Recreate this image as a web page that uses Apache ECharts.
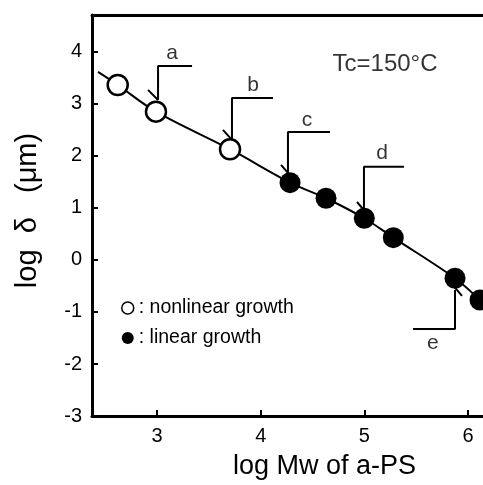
<!DOCTYPE html>
<html>
<head>
<meta charset="utf-8">
<script src="https://cdn.jsdelivr.net/npm/echarts@6/dist/echarts.min.js"></script>
<style>html,body{margin:0;padding:0;background:#fff}#c{width:483px;height:485px}</style>
</head>
<body>
<div id="c"></div>
<script>
// ---- data ----
var nonlinearPts = [[2.621, 3.365], [2.990, 2.852], [3.704, 2.129]];
var linearPts = [[4.283, 1.487], [4.630, 1.187], [4.999, 0.802], [5.279, 0.429], [5.874, -0.352], [6.115, -0.769]];
var curvePts = [[2.431, 3.615], [2.621, 3.365], [2.990, 2.852], [3.704, 2.129], [4.283, 1.487], [4.630, 1.187], [4.999, 0.802], [5.279, 0.429], [5.874, -0.352], [6.115, -0.769], [6.20, -0.93]];
// annotation brackets: [horizontal end, corner, vertical end]
var bracketNames = ['a', 'b', 'c', 'd', 'e'];
var bracketLines = [
  [[3.338, 3.73], [3.010, 3.73], [3.010, 3.077]],
  [[4.119, 3.115], [3.723, 3.115], [3.723, 2.31]],
  [[4.668, 2.46], [4.263, 2.46], [4.263, 1.673]],
  [[5.382, 1.79], [4.996, 1.79], [4.996, 0.96]],
  [[5.469, -1.327], [5.874, -1.327], [5.874, -0.577]]
];
var bracketArrows = [
  [[2.913, 3.27], [3.010, 3.077]],
  [[3.636, 2.50], [3.723, 2.31]],
  [[4.196, 1.827], [4.263, 1.673]],
  [[4.929, 1.115], [4.996, 0.96]],
  [[5.874, -0.53], [5.941, -0.692]]
];
var bracketLabelPos = [[3.145, 3.98], [3.926, 3.365], [4.446, 2.69], [5.17, 2.06], [5.661, -1.596]];
var tempLabel = 'Tc=150°C';
var tempLabelPos = [5.199, 3.77];
var xRange = [2.373, 6.144];
var yRange = [-3, 4.71];
var xTitle = 'log Mw of a-PS';
var yTitle = 'log  δ   (μm)';
var legendNames = ['nonlinear growth', 'linear growth'];

var FONT = 'Liberation Sans';
var chart = echarts.init(document.getElementById('c'), null, {renderer: 'canvas'});

var series = [];
series.push({
  type: 'line', data: curvePts, smooth: 0.35, showSymbol: false, symbol: 'none',
  lineStyle: {color: '#000', width: 2}, z: 2, silent: true, clip: true
});
bracketLines.forEach(function (seg, i) {
  series.push({type: 'line', data: seg, symbol: 'none', lineStyle: {color: '#000', width: 2}, z: 3, silent: true});
  series.push({type: 'line', data: bracketArrows[i], symbol: 'none', lineStyle: {color: '#000', width: 2}, z: 3, silent: true});
});
series.push({
  name: legendNames[0], type: 'scatter', data: nonlinearPts, symbol: 'circle', symbolSize: 20,
  itemStyle: {color: '#fff', borderColor: '#000', borderWidth: 2.5, opacity: 1}, z: 5
});
series.push({
  name: legendNames[1], type: 'scatter', data: linearPts, symbol: 'circle', symbolSize: 21,
  itemStyle: {color: '#000', borderColor: '#000', borderWidth: 0, opacity: 1}, z: 5
});
series.push({
  type: 'scatter', symbolSize: 0, silent: true, z: 6,
  data: bracketLabelPos.map(function (p, i) { return {value: p, name: bracketNames[i]}; }),
  label: {show: true, position: 'inside', formatter: '{b}', color: '#000', fontSize: 21, fontFamily: FONT}
});
series.push({
  type: 'scatter', symbolSize: 0, silent: true, z: 6,
  data: [{value: tempLabelPos, name: tempLabel}],
  label: {show: true, position: 'inside', formatter: '{b}', color: '#000', fontSize: 24, fontFamily: FONT}
});

var option = {
  animation: false,
  backgroundColor: '#fff',
  grid: {left: 92, right: 0, top: 15, bottom: 69, containLabel: false},
  legend: {
    orient: 'vertical', left: 121, top: 298, itemGap: 10, padding: 0,
    itemWidth: 12, itemHeight: 12, icon: 'circle',
    textStyle: {fontSize: 19.5, fontFamily: FONT, color: '#000', lineHeight: 20},
    formatter: function (n) { return ': ' + n; },
    data: [
      {name: legendNames[0], itemStyle: {color: '#fff', borderColor: '#000', borderWidth: 1.5}},
      {name: legendNames[1], itemStyle: {color: '#000', borderColor: '#000', borderWidth: 0}}
    ],
    selectedMode: false
  },
  xAxis: [{
    type: 'value', min: xRange[0], max: xRange[1], splitNumber: 4, minInterval: 1, maxInterval: 1,
    position: 'bottom',
    axisLine: {show: true, onZero: false, lineStyle: {color: '#000', width: 3}},
    axisTick: {show: true, inside: true, length: 6, lineStyle: {color: '#000', width: 2}},
    axisLabel: {show: true, color: '#000', fontSize: 20, fontFamily: FONT, margin: 10,
      showMinLabel: false, showMaxLabel: false,
      formatter: function (v) { return Math.abs(v - Math.round(v)) < 1e-6 ? String(Math.round(v)) : ''; }},
    splitLine: {show: false},
    name: xTitle, nameLocation: 'middle', nameGap: 37,
    nameTextStyle: {fontSize: 27, fontFamily: FONT, color: '#000', padding: [0, 0, 0, 74]}
  }, {
    type: 'value', min: xRange[0], max: xRange[1], position: 'top',
    axisLine: {show: true, onZero: false, lineStyle: {color: '#000', width: 3}},
    axisTick: {show: false}, axisLabel: {show: false}, splitLine: {show: false}
  }],
  yAxis: {
    type: 'value', min: yRange[0], max: yRange[1], interval: 1,
    axisLine: {show: true, onZero: false, lineStyle: {color: '#000', width: 3}},
    axisTick: {show: true, inside: true, length: 6, lineStyle: {color: '#000', width: 2}},
    axisLabel: {show: true, color: '#000', fontSize: 20, fontFamily: FONT, margin: 10,
      showMaxLabel: false,
      formatter: function (v) { return Math.abs(v - Math.round(v)) < 1e-6 ? String(Math.round(v)) : ''; }},
    splitLine: {show: false},
    name: yTitle, nameLocation: 'middle', nameGap: 50, nameRotate: 90,
    nameTextStyle: {fontSize: 29, fontFamily: FONT, color: '#000', padding: [0, 0, 0, 10]}
  },
  series: series
};
chart.setOption(option);
</script>
</body>
</html>
